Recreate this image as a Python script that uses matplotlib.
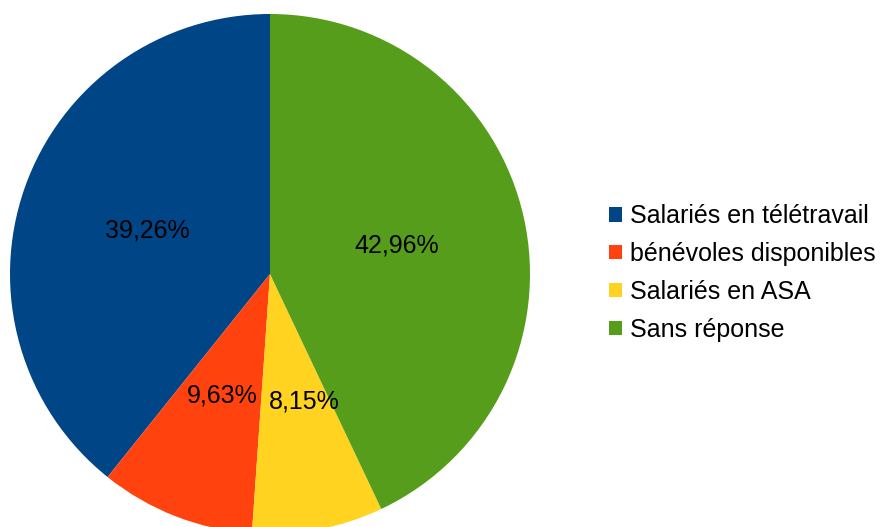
import matplotlib
matplotlib.use('Agg')
import matplotlib.pyplot as plt

labels = ['Salariés en télétravail', 'bénévoles disponibles', 'Salariés en ASA', 'Sans réponse']
values = [39.26, 9.63, 8.15, 42.96]
colors = ['#004586', '#ff420e', '#ffd320', '#579d1c']

plt.rcParams['font.family'] = ['Liberation Sans', 'DejaVu Sans']

fig = plt.figure(figsize=(8.81, 5.27), dpi=100)
# pie area in pixels: x 10..530, y 14..534 (bottom cut off)
ax = fig.add_axes([10 / 881, -7 / 527, 520 / 881, 520 / 527])

def fmt(p):
    return ('%.2f%%' % p).replace('.', ',')

wedges, texts, autotexts = ax.pie(values, colors=colors, startangle=90, counterclock=True,
                                  autopct=fmt, pctdistance=0.5, radius=1.0,
                                  textprops={'fontsize': 18, 'color': 'black'})
# small label nudge for the yellow slice, as in the original
x, y = autotexts[2].get_position()
autotexts[2].set_position((x + 0.04, y))

ax.set_xlim(-1, 1)
ax.set_ylim(-1, 1)
ax.set_aspect('equal')
ax.axis('off')

fig.legend(wedges, labels, loc='center left', bbox_to_anchor=(599 / 881, 1 - 273 / 527),
           borderaxespad=0, frameon=False, fontsize=18, handlelength=0.5, handleheight=0.5,
           handletextpad=0.35, labelspacing=0.55)

fig.savefig('out.png', dpi=100)
